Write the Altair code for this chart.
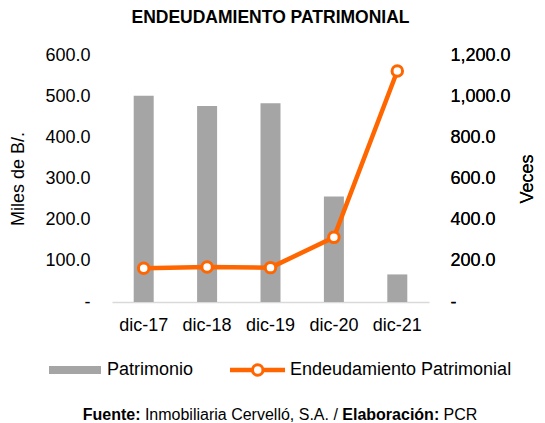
import altair as alt
import pandas as pd

categories = ["dic-17", "dic-18", "dic-19", "dic-20", "dic-21"]
patrimonio = [501, 476, 483, 256, 67]
endeudamiento = [164, 170, 167, 314, 1122]
left_ticks = [0, 100, 200, 300, 400, 500, 600]
right_ticks = [0, 200, 400, 600, 800, 1000, 1200]

df = pd.DataFrame({"cat": categories, "patrimonio": patrimonio, "endeud": endeudamiento})

FONT = "Liberation Sans"
GRAY = "#A5A5A5"
ORANGE = "#FF6600"
FS = 18

x_enc = alt.X(
    "cat:N", sort=categories, title=None,
    scale=alt.Scale(paddingInner=0.2, paddingOuter=0.1),
    axis=alt.Axis(labelAngle=0, labelFontSize=FS, labelFont=FONT, labelColor="#000000",
                  ticks=False, domainColor="#D9D9D9", domainWidth=1.5, labelPadding=14,
                  grid=False),
)

label_expr = "datum.value == 0 ? '-' : format(datum.value, ',.1f')"

bars = alt.Chart(df).mark_bar(color=GRAY, size=20).encode(
    x=x_enc,
    y=alt.Y("patrimonio:Q",
            scale=alt.Scale(domain=[0, 600], nice=False),
            axis=alt.Axis(values=left_ticks, labelExpr=label_expr, title="Miles de B/.",
                          domain=False, ticks=False, grid=False, labelFont=FONT,
                          labelFontSize=FS, labelColor="#000000", labelPadding=22,
                          titleFont=FONT, titleFontSize=FS, titleFontWeight="normal",
                          titleColor="#000000", titlePadding=17)),
)

y_right = alt.Y("endeud:Q", scale=alt.Scale(domain=[0, 1200], nice=False),
                axis=alt.Axis(values=right_ticks, labelExpr=label_expr, title="Veces",
                              orient="right", domain=False, ticks=False, grid=False,
                              labelFont=FONT, labelFontSize=FS, labelColor="#000000",
                              labelPadding=21, titleFont=FONT, titleFontSize=FS,
                              titleFontWeight="normal", titleColor="#000000",
                              titleAngle=270, titleBaseline="top", titlePadding=8))

line = alt.Chart(df).mark_line(color=ORANGE, strokeWidth=4.5).encode(x=x_enc, y=y_right)
points = alt.Chart(df).mark_point(shape="circle", filled=True, fill="white", stroke=ORANGE,
                                  strokeWidth=3, size=110, opacity=1).encode(x=x_enc, y=y_right)

one = pd.DataFrame({"a": [0]})

def txt(text, x, y, size=FS, bold=False, baseline="middle", align="left"):
    return alt.Chart(one).mark_text(text=text, font=FONT, fontSize=size,
                                    fontWeight="bold" if bold else "normal",
                                    align=align, baseline=baseline, color="#000000").encode(
        x=alt.value(x), y=alt.value(y))

title = txt("ENDEUDAMIENTO PATRIMONIAL", 158.5, -31.7, size=17.5, bold=True,
            baseline="alphabetic", align="center")

leg_bar = alt.Chart(one).mark_rect(color=GRAY).encode(
    x=alt.value(-63), x2=alt.value(-11), y=alt.value(311), y2=alt.value(319))
leg_line = alt.Chart(one).mark_rule(color=ORANGE, strokeWidth=4.5).encode(
    x=alt.value(118), x2=alt.value(173), y=alt.value(315))
leg_pt = alt.Chart(one).mark_point(shape="circle", filled=True, fill="white", stroke=ORANGE,
                                   strokeWidth=3, size=110, opacity=1).encode(
    x=alt.value(145.7), y=alt.value(315))
leg_t1 = txt("Patrimonio", -5, 315)
leg_t2 = txt("Endeudamiento Patrimonial", 178, 315)

FY = 365
f1 = txt("Fuente:", -29.3, FY, size=16, bold=True, baseline="alphabetic")
f2 = txt("Inmobiliaria Cervelló, S.A. /", 32.9, FY, size=16, baseline="alphabetic")
f3 = txt("Elaboración:", 230.3, FY, size=16, bold=True, baseline="alphabetic")
f4 = txt("PCR", 331.6, FY, size=16, baseline="alphabetic")

chart = alt.layer(
    bars, line, points,
    title, leg_bar, leg_line, leg_pt, leg_t1, leg_t2, f1, f2, f3, f4,
).resolve_scale(y="independent").properties(
    width=317, height=247,
    autosize=alt.AutoSizeParams(type="none"),
    padding={"left": 104, "top": 47, "right": 108, "bottom": 121},
).configure_view(stroke=None)

chart.save("out.html", embed_options={"renderer": "svg", "actions": False})
